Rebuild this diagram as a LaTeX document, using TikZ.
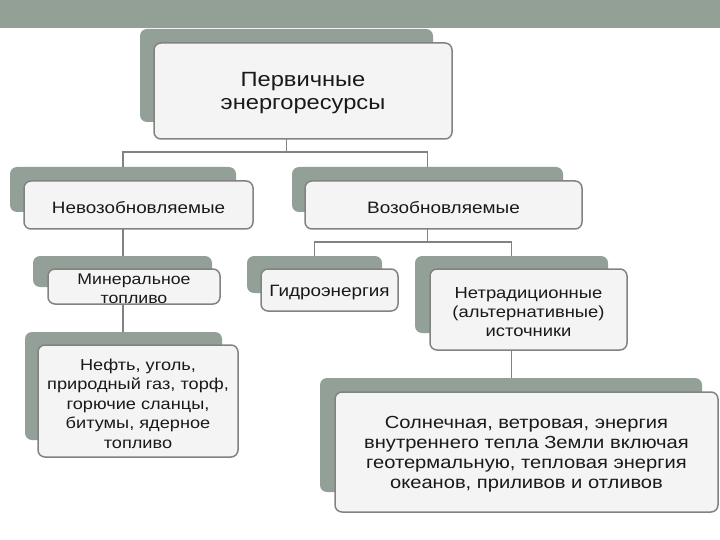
\documentclass[tikz,border=0pt]{standalone}
\usepackage{fontspec}
\setmainfont{Liberation Sans}[FakeStretch=1.15]
\usetikzlibrary{backgrounds}
\definecolor{band}{RGB}{146,160,150}
\definecolor{backc}{RGB}{147,160,152}
\definecolor{frontc}{RGB}{244,244,244}
\definecolor{edge}{RGB}{130,130,130}
\definecolor{txt}{RGB}{25,25,25}
\newcommand{\backnode}[5]{\node[backbox, minimum width={#4-#2}, minimum height={#5-#3}] (#1) at ({(#2+#4)/2},{(#3+#5)/2}) {};}
\newcommand{\frontnode}[7]{\node[frontbox, minimum width={#4-#2}, minimum height={#5-#3}] (#1) at ({(#2+#4)/2},{(#3+#5)/2}) {};
  \node[textnode, font=#6] (#1t) at (#1.center) {#7};}
\begin{document}
\begin{tikzpicture}[x=1pt,y=-1pt,
  backbox/.style={fill=backc, rounded corners=7pt, inner sep=0pt},
  frontbox/.style={fill=frontc, draw=edge, line width=1.5pt, rounded corners=7pt, inner sep=0pt},
  textnode/.style={inner sep=0pt, align=center, text=txt, yshift=-2.5pt},
  conn/.style={draw=edge, line width=1.5pt}]
\useasboundingbox (0,0) rectangle (720,540);
\fill[band] (0,0) rectangle (720,28);
% top
\backnode{topb}{140}{29}{433}{122}
\frontnode{top}{154}{43}{452}{139}{\fontsize{20.6}{23}\selectfont}{Первичные\\энергоресурсы}
% second level
\backnode{nonb}{10}{167}{236}{212}
\frontnode{non}{24}{181}{253}{229}{\fontsize{16.4}{20}\selectfont}{Невозобновляемые}
\backnode{renb}{292}{167}{563}{212}
\frontnode{ren}{305}{181}{582}{229}{\fontsize{16.5}{20}\selectfont}{Возобновляемые}
% third level
\backnode{minb}{33}{256}{212}{287}
\frontnode{min}{48}{269}{220}{304}{\fontsize{15.4}{19}\selectfont}{Минеральное\\топливо}
\backnode{hydb}{247}{256}{382}{293}
\frontnode{hyd}{261}{269}{398}{311}{\fontsize{16.4}{20}\selectfont}{Гидроэнергия}
\backnode{altb}{415}{256}{608}{333}
\frontnode{alt}{430}{269}{627}{350}{\fontsize{16}{19}\selectfont}{Нетрадиционные\\(альтернативные)\\источники}
% fourth level
\backnode{oilb}{25}{332}{222}{440}
\frontnode{oil}{38}{345}{238}{457}{\fontsize{15.8}{19.5}\selectfont}{Нефть, уголь,\\природный газ, торф,\\горючие сланцы,\\битумы, ядерное\\топливо}
\backnode{sunb}{320}{378}{702}{492}
\frontnode{sun}{335}{392}{718}{512}{\fontsize{17.5}{20}\selectfont}{Солнечная, ветровая, энергия\\внутреннего тепла Земли включая\\геотермальную, тепловая энергия\\океанов, приливов и отливов}
% connectors
\coordinate (bus1) at (287,152);
\coordinate (bus2) at (427,242);
\begin{pgfonlayer}{background}
\draw[conn] (topb.south) -- (topb.south |- bus1);
\draw[conn] (nonb.north) -- (nonb.north |- bus1) -- (renb.north |- bus1) -- (renb.north);
\draw[conn] (renb.south) -- (renb.south |- bus2);
\draw[conn] (hydb.north) -- (hydb.north |- bus2) -- (altb.north |- bus2) -- (altb.north);
\draw[conn] (nonb.south) -- (nonb.south |- oilb.north);
\draw[conn] (altb.south) -- (altb.south |- sunb.north);
\end{pgfonlayer}
\end{tikzpicture}
\end{document}
